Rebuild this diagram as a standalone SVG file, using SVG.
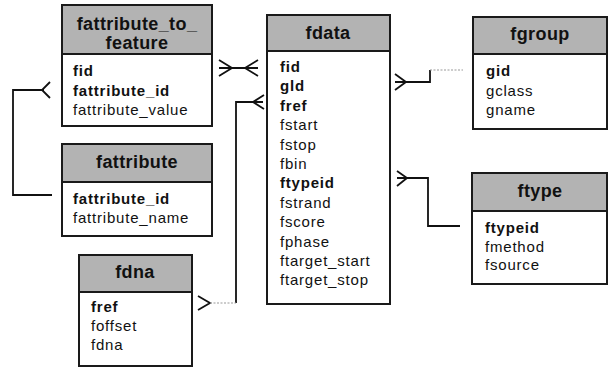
<svg xmlns="http://www.w3.org/2000/svg" width="608" height="368" viewBox="0 0 608 368">
<style>
.box{fill:#fff;stroke:#1a1a1a;stroke-width:2}
.hdr{fill:#b3b3b3;stroke:#1a1a1a;stroke-width:2}
.t{font-family:"Liberation Sans",Arial,sans-serif;font-size:18px;font-weight:bold;text-anchor:middle;fill:#111;letter-spacing:0.4px}
.f{font-family:"Liberation Sans",Arial,sans-serif;font-size:15px;fill:#111;letter-spacing:0.8px}
.k{font-weight:bold}
.c{fill:none;stroke:#111;stroke-width:1.8}
.d{fill:none;stroke:#999;stroke-width:1.2;stroke-dasharray:2 1.5}
</style>
<rect width="608" height="368" fill="#fff"/>
<g id="connectors">
  <path class="c" d="M219,68 H258 M219,60 L232,68 L219,76 M258,60 L245,68 L258,76"/>
  <path class="c" d="M52,195 H13 V90 H44 M50,82 L42,90 L50,98"/>
  <path class="c" d="M236,303 V102 H263 M264,95 L253,102 L264,109"/>
  <path class="c" d="M198,296 L210,303 L198,310"/>
  <path class="d" d="M210,303 H236"/>
  <path class="c" d="M395,82 H430 V70 M395,74 L406,82 L395,90"/>
  <path class="d" d="M430,70 H463"/>
  <path class="c" d="M397,178 H428 V226 H460 M397,171 L407,178 L397,186"/>
</g>
<g id="fattribute_to_feature">
  <rect class="box" x="62" y="5" width="150" height="121"/>
  <rect class="hdr" x="62" y="5" width="150" height="49"/>
  <text class="t" x="137" y="30">fattribute_to_</text>
  <text class="t" x="137" y="49">feature</text>
  <text class="f k" x="73" y="76">fid</text>
  <text class="f k" x="73" y="96">fattribute_id</text>
  <text class="f" x="73" y="115">fattribute_value</text>
</g>
<g id="fattribute">
  <rect class="box" x="62" y="144" width="150" height="92"/>
  <rect class="hdr" x="62" y="144" width="150" height="38"/>
  <text class="t" x="137" y="168">fattribute</text>
  <text class="f k" x="73" y="204">fattribute_id</text>
  <text class="f" x="73" y="223">fattribute_name</text>
</g>
<g id="fdna">
  <rect class="box" x="79" y="255" width="113" height="111"/>
  <rect class="hdr" x="79" y="255" width="113" height="37"/>
  <text class="t" x="135" y="278">fdna</text>
  <text class="f k" x="91" y="312">fref</text>
  <text class="f" x="91" y="331">foffset</text>
  <text class="f" x="91" y="350">fdna</text>
</g>
<g id="fdata">
  <rect class="box" x="267" y="15" width="123" height="289"/>
  <rect class="hdr" x="267" y="15" width="123" height="36"/>
  <text class="t" x="328" y="39">fdata</text>
  <text class="f k" x="280" y="72">fid</text>
  <text class="f k" x="280" y="91.4">gld</text>
  <text class="f k" x="280" y="110.8">fref</text>
  <text class="f" x="280" y="130.2">fstart</text>
  <text class="f" x="280" y="149.6">fstop</text>
  <text class="f" x="280" y="169">fbin</text>
  <text class="f k" x="280" y="188.4">ftypeid</text>
  <text class="f" x="280" y="207.8">fstrand</text>
  <text class="f" x="280" y="227.2">fscore</text>
  <text class="f" x="280" y="246.6">fphase</text>
  <text class="f" x="280" y="266">ftarget_start</text>
  <text class="f" x="280" y="285.4">ftarget_stop</text>
</g>
<g id="fgroup">
  <rect class="box" x="473" y="17" width="134" height="112"/>
  <rect class="hdr" x="473" y="17" width="134" height="37"/>
  <text class="t" x="540" y="40">fgroup</text>
  <text class="f k" x="486" y="76">gid</text>
  <text class="f" x="486" y="96">gclass</text>
  <text class="f" x="486" y="115">gname</text>
</g>
<g id="ftype">
  <rect class="box" x="472" y="173" width="135" height="111"/>
  <rect class="hdr" x="472" y="173" width="135" height="38"/>
  <text class="t" x="540" y="197">ftype</text>
  <text class="f k" x="485" y="233">ftypeid</text>
  <text class="f" x="485" y="252">fmethod</text>
  <text class="f" x="485" y="270">fsource</text>
</g>
</svg>
